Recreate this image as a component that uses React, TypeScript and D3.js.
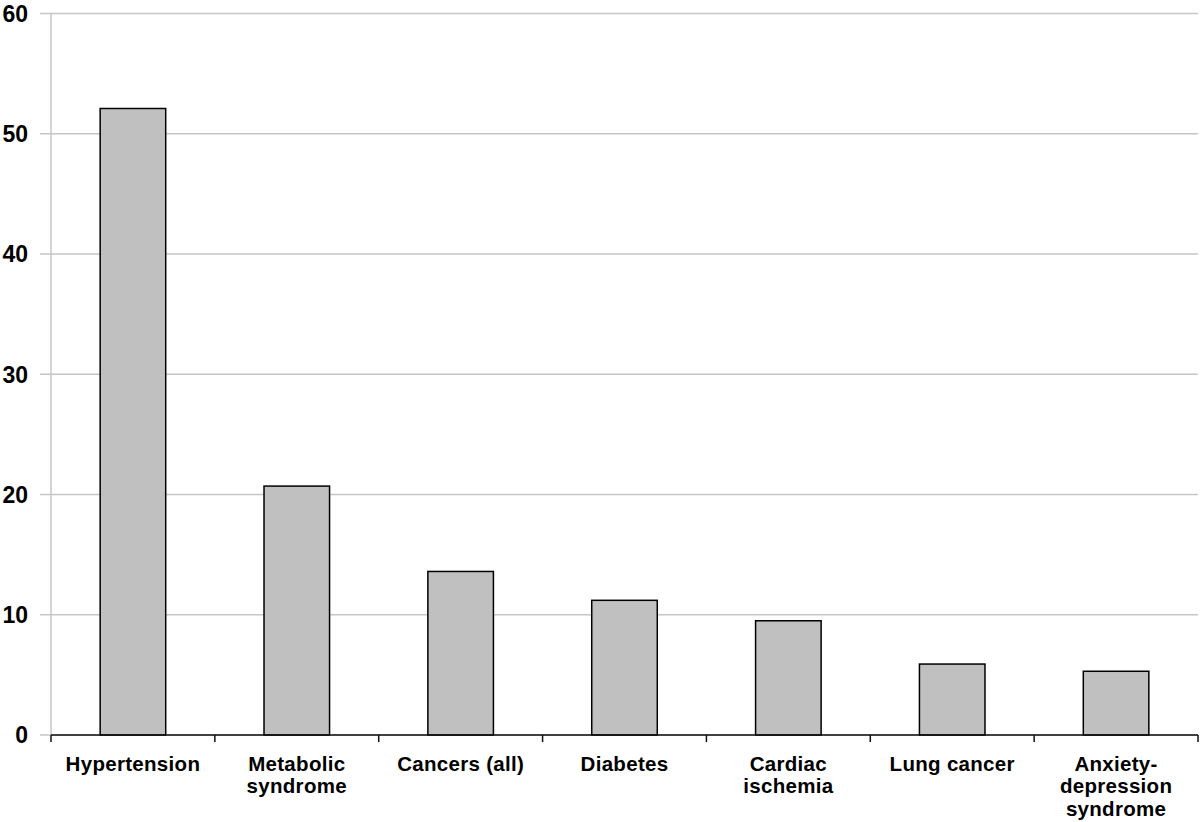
import React from "react";
import * as d3 from "d3";

const categories: string[][] = [
  ["Hypertension"],
  ["Metabolic", "syndrome"],
  ["Cancers (all)"],
  ["Diabetes"],
  ["Cardiac", "ischemia"],
  ["Lung cancer"],
  ["Anxiety-", "depression", "syndrome"],
];
const values: number[] = [52.1, 20.7, 13.6, 11.2, 9.5, 5.9, 5.3];
const yTicks: number[] = [0, 10, 20, 30, 40, 50, 60];

const W = 1200;
const H = 822;
const left = 51;
const right = 1198;
const top = 13.5;
const bottom = 735;

export default function App() {
  const keys = categories.map((c) => c.join(" "));
  const x = d3.scaleBand<string>().domain(keys).range([left, right]).paddingInner(0.6).paddingOuter(0.3);
  const xOuter = d3.scaleBand<string>().domain(keys).range([left, right]).padding(0);
  const y = d3.scaleLinear().domain([0, 60]).range([bottom, top]);
  const font = "'Liberation Sans', Arial, Helvetica, sans-serif";
  const boundaries = [...keys.map((k) => xOuter(k) as number), right];

  return (
    <svg width={W} height={H} style={{ position: "absolute", left: 0, top: 0, background: "#fff" }}>
      <rect x={0} y={0} width={W} height={H} fill="#fff" />
      {yTicks.map((t) => (
        <g key={t}>
          <line x1={40} x2={right} y1={y(t)} y2={y(t)} stroke="#c6c6c6" strokeWidth={1.5} />
          <text
            x={28}
            y={y(t)}
            dy="0.36em"
            textAnchor="end"
            fontFamily={font}
            fontWeight="bold"
            fontSize={23}
            fill="#000"
          >
            {t}
          </text>
        </g>
      ))}
      <line x1={left} x2={left} y1={y(60)} y2={bottom} stroke="#c6c6c6" strokeWidth={1.5} />
      {keys.map((k, i) => (
        <rect
          key={k}
          x={x(k)}
          y={y(values[i])}
          width={x.bandwidth()}
          height={bottom - y(values[i])}
          fill="#c0c0c0"
          stroke="#000"
          strokeWidth={1.5}
        />
      ))}
      <line x1={left} x2={right} y1={bottom} y2={bottom} stroke="#111" strokeWidth={1.5} />
      {boundaries.map((b, i) => (
        <line key={i} x1={b} x2={b} y1={bottom} y2={bottom + 7} stroke="#111" strokeWidth={1.5} />
      ))}
      {categories.map((lines, i) => {
        const cx = (xOuter(keys[i]) as number) + xOuter.bandwidth() / 2;
        return (
          <text
            key={keys[i]}
            x={cx}
            y={770}
            textAnchor="middle"
            fontFamily={font}
            fontWeight="bold"
            fontSize={20.5}
            letterSpacing={0.3}
            fill="#000"
          >
            {lines.map((l, j) => (
              <tspan key={j} x={cx} y={770.5 + j * 22.5}>
                {l}
              </tspan>
            ))}
          </text>
        );
      })}
    </svg>
  );
}
